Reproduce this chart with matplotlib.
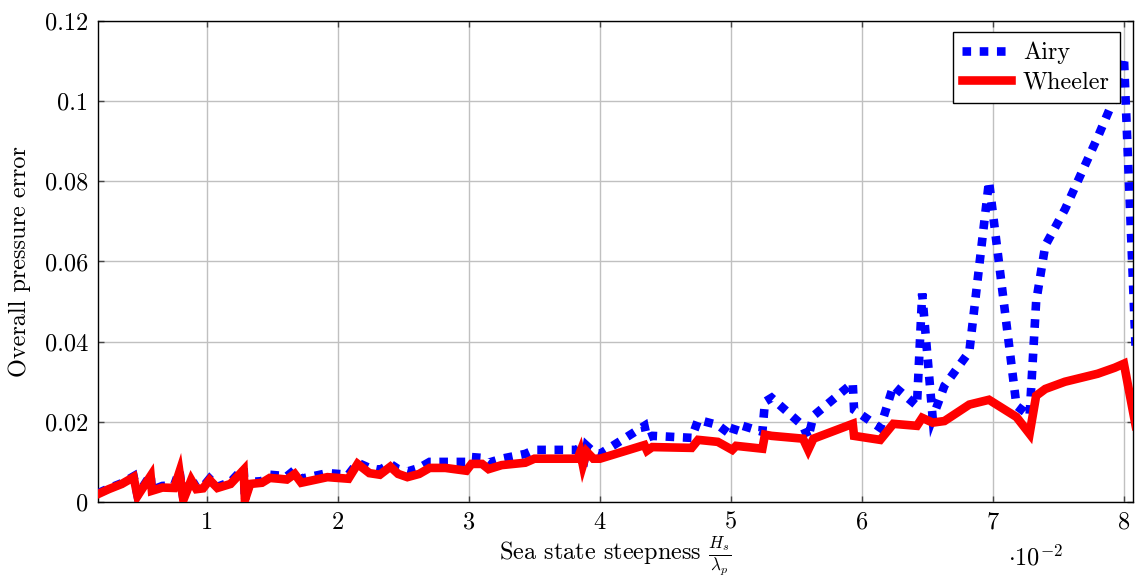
import numpy as np
import matplotlib.pyplot as plt

plt.rcParams['font.family'] = 'serif'
plt.rcParams['font.serif'] = ['cmr10', 'DejaVu Serif']
plt.rcParams['mathtext.fontset'] = 'cm'
plt.rcParams['axes.unicode_minus'] = False
plt.rcParams['font.size'] = 17.5

# sea state steepness (x 10^-2)
steep = [0.17, 0.25, 0.35, 0.44, 0.47, 0.57, 0.58, 0.66, 0.75, 0.79, 0.82, 0.88, 0.92, 0.97,
         1.02, 1.08, 1.18, 1.28, 1.29, 1.33, 1.42, 1.48, 1.55, 1.61, 1.67, 1.72, 1.82, 1.92,
         2.08, 2.15, 2.24, 2.32, 2.40, 2.46, 2.53, 2.62, 2.70, 2.82, 2.98, 3.02, 3.10, 3.15,
         3.25, 3.43, 3.50, 3.83, 3.85, 3.87, 3.90, 3.95, 4.00, 4.34, 4.36, 4.40, 4.70, 4.75,
         4.90, 5.01, 5.04, 5.24, 5.26, 5.31, 5.55, 5.59, 5.63, 5.93, 5.94, 6.14, 6.24, 6.42,
         6.46, 6.54, 6.63, 6.82, 6.97, 7.18, 7.28, 7.33, 7.40, 7.55, 7.80, 7.93, 8.00, 8.09]

airy = [0.0022, 0.0034, 0.0047, 0.0064, 0.0017, 0.0068, 0.0030, 0.0040, 0.0042, 0.0078, 0.0008,
        0.0058, 0.0036, 0.0038, 0.0058, 0.0038, 0.0050, 0.0085, 0.0010, 0.0050, 0.0052, 0.0068,
        0.0066, 0.0064, 0.0080, 0.0058, 0.0065, 0.0072, 0.0068, 0.0098, 0.0085, 0.0080, 0.0095,
        0.0082, 0.0076, 0.0085, 0.0100, 0.0100, 0.0100, 0.0112, 0.0110, 0.0098, 0.0108, 0.0120,
        0.0130, 0.0130, 0.0140, 0.0085, 0.0140, 0.0125, 0.0120, 0.0190, 0.0160, 0.0165, 0.0160,
        0.0205, 0.0192, 0.0165, 0.0195, 0.0175, 0.0250, 0.0260, 0.0190, 0.0160, 0.0215, 0.0297,
        0.0230, 0.0185, 0.0290, 0.0240, 0.0520, 0.0210, 0.0290, 0.0375, 0.0800, 0.0240, 0.0215,
        0.0500, 0.0640, 0.0730, 0.0910, 0.1010, 0.1110, 0.0380]

wheeler = [0.0020, 0.0032, 0.0045, 0.0062, 0.0015, 0.0065, 0.0028, 0.0036, 0.0035, 0.0075, 0.0005,
           0.0055, 0.0032, 0.0034, 0.0055, 0.0035, 0.0045, 0.0080, 0.0005, 0.0045, 0.0048, 0.0060,
           0.0058, 0.0056, 0.0070, 0.0048, 0.0055, 0.0062, 0.0058, 0.0095, 0.0072, 0.0068, 0.0088,
           0.0070, 0.0062, 0.0070, 0.0085, 0.0085, 0.0078, 0.0095, 0.0095, 0.0082, 0.0092, 0.0098,
           0.0108, 0.0108, 0.0125, 0.0092, 0.0125, 0.0108, 0.0108, 0.0142, 0.0128, 0.0137, 0.0135,
           0.0155, 0.0150, 0.0130, 0.0140, 0.0133, 0.0168, 0.0165, 0.0158, 0.0130, 0.0158, 0.0195,
           0.0165, 0.0155, 0.0195, 0.0190, 0.0210, 0.0198, 0.0202, 0.0243, 0.0255, 0.0212, 0.0170,
           0.0265, 0.0282, 0.0300, 0.0320, 0.0335, 0.0345, 0.0190]

yticks = [0, 0.02, 0.04, 0.06, 0.08, 0.1, 0.12]
ytick_labels = ['0', '0.02', '0.04', '0.06', '0.08', '0.1', '0.12']
xticks = [1, 2, 3, 4, 5, 6, 7, 8]

fig = plt.figure(figsize=(11.35, 5.78), dpi=100)
ax = fig.add_axes([0.0863, 0.1315, 0.912, 0.8322])

ax.plot(steep, airy, color='blue', lw=6.2, linestyle=(0, (1, 1.0)),
        dash_capstyle='butt', dash_joinstyle='miter', label='Airy', zorder=3)
ax.plot(steep, wheeler, color='red', lw=6.2, solid_joinstyle='miter',
        label='Wheeler', zorder=3)

ax.set_xlim(0.168, 8.07)
ax.set_ylim(0, 0.12)
ax.set_xticks(xticks)
ax.set_xticklabels([str(t) for t in xticks])
ax.set_yticks(yticks)
ax.set_yticklabels(ytick_labels)
ax.grid(True, color='#c0c0c0', lw=1)
ax.set_axisbelow(True)
ax.tick_params(direction='in', top=True, right=True, length=4, width=1,
               color='#444444', labelsize=17.5, pad=7)
for s in ax.spines.values():
    s.set_linewidth(1)

ax.set_xlabel(r'Sea state steepness $\frac{H_s}{\lambda_p}$', fontsize=17.5, labelpad=0)
ax.set_ylabel('Overall pressure error', fontsize=17.5, labelpad=10)
fig.text(0.912, 0.035, r'$\cdot 10^{-2}$', fontsize=17.5, ha='center', va='center')

leg = ax.legend(loc='upper right', bbox_to_anchor=(0.987, 0.977), borderaxespad=0,
                fontsize=17.5, fancybox=False, edgecolor='black', framealpha=1,
                handlelength=2.0, handletextpad=0.5, borderpad=0.4, labelspacing=0.3)
leg.get_frame().set_linewidth(1)

fig.savefig('out.png', dpi=100)
